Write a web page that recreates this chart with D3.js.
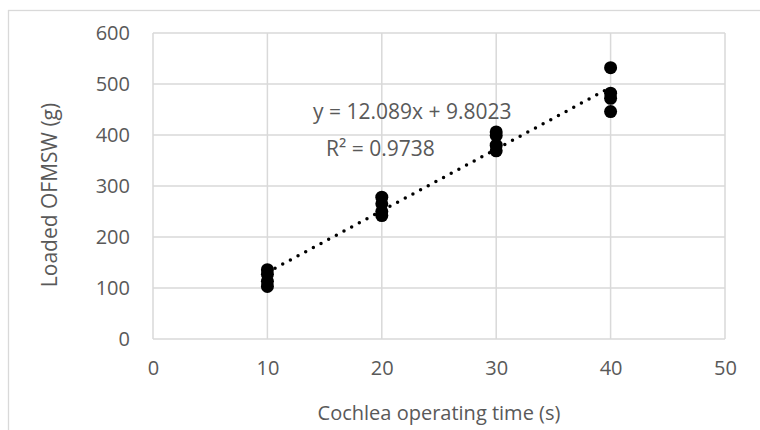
<!DOCTYPE html>
<html>
<head>
<meta charset="utf-8">
<script src="https://cdn.jsdelivr.net/npm/d3@7"></script>
<style>
  body { margin: 0; background: #fff; }
  text { font-family: "Open Sans", sans-serif; fill: #595959; }
</style>
</head>
<body>
<div id="chart"></div>
<script>
// operating time (s) and loaded mass (g), four replicates per time
const times = [10, 10, 10, 10, 20, 20, 20, 20, 30, 30, 30, 30, 40, 40, 40, 40];
const loaded = [136, 127, 113, 103, 278, 265, 250, 242, 406, 399, 380, 369, 532, 482, 472, 446];
const xTicks = [0, 10, 20, 30, 40, 50];
const yTicks = [0, 100, 200, 300, 400, 500, 600];
const slope = 12.089;
const intercept = 9.8023;
const equationLines = ["y = 12.089x + 9.8023", "R² = 0.9738"];

const width = 760, height = 430;
const margins = { top: 33, right: 35, bottom: 91, left: 153 };
const innerWidth = width - margins.left - margins.right;
const innerHeight = height - margins.top - margins.bottom;

const svg = d3.select("#chart").append("svg")
  .attr("width", width)
  .attr("height", height);

// chart area border (runs off the right and bottom edges)
svg.append("rect")
  .attr("x", 8.5).attr("y", 10.5)
  .attr("width", 800).attr("height", 500)
  .attr("fill", "none").attr("stroke", "#d9d9d9").attr("stroke-width", 1.3);

const g = svg.append("g")
  .attr("transform", `translate(${margins.left},${margins.top})`);

const x = d3.scaleLinear().domain([0, 50]).range([0, innerWidth]);
const y = d3.scaleLinear().domain([0, 600]).range([innerHeight, 0]);

// gridlines
g.append("g").selectAll("line.h")
  .data(yTicks)
  .join("line")
  .attr("x1", 0).attr("x2", innerWidth)
  .attr("y1", (d) => y(d)).attr("y2", (d) => y(d))
  .attr("stroke", "#d9d9d9").attr("stroke-width", 1.5);

g.append("g").selectAll("line.v")
  .data(xTicks)
  .join("line")
  .attr("y1", 0).attr("y2", innerHeight)
  .attr("x1", (d) => x(d)).attr("x2", (d) => x(d))
  .attr("stroke", "#d9d9d9").attr("stroke-width", 1.5);

// axes (labels only)
const xAxisG = g.append("g")
  .attr("transform", `translate(0,${innerHeight})`)
  .call(d3.axisBottom(x).tickValues(xTicks).tickSize(0).tickPadding(22));
const yAxisG = g.append("g")
  .call(d3.axisLeft(y).tickValues(yTicks).tickSize(0).tickPadding(23));
[xAxisG, yAxisG].forEach((a) => {
  a.select(".domain").remove();
  a.selectAll("text")
    .attr("font-family", "Open Sans, sans-serif")
    .attr("font-size", "20px")
    .attr("fill", "#595959");
});

// points
g.append("g").selectAll("circle")
  .data(times.map((t, i) => ({ t, v: loaded[i] })))
  .join("circle")
  .attr("cx", (d) => x(d.t))
  .attr("cy", (d) => y(d.v))
  .attr("r", 6.5)
  .attr("fill", "#000");

// linear trendline over the data range
const xExtent = d3.extent(times);
g.append("line")
  .attr("x1", x(xExtent[0])).attr("y1", y(slope * xExtent[0] + intercept))
  .attr("x2", x(xExtent[1])).attr("y2", y(slope * xExtent[1] + intercept))
  .attr("stroke", "#000")
  .attr("stroke-width", 3.5)
  .attr("stroke-linecap", "round")
  .attr("stroke-dasharray", "0,8.7");

// trendline label
svg.append("text")
  .attr("x", 313).attr("y", 119)
  .attr("font-size", "21px")
  .text(equationLines[0]);
svg.append("text")
  .attr("x", 326).attr("y", 156)
  .attr("font-size", "21px")
  .text(equationLines[1]);

// axis titles
svg.append("text")
  .attr("x", margins.left + innerWidth / 2).attr("y", 420)
  .attr("text-anchor", "middle")
  .attr("font-size", "20px")
  .text("Cochlea operating time (s)");
svg.append("text")
  .attr("transform", `translate(57,195) rotate(-90)`)
  .attr("text-anchor", "middle")
  .attr("font-size", "21px")
  .text("Loaded OFMSW (g)");
</script>
</body>
</html>
